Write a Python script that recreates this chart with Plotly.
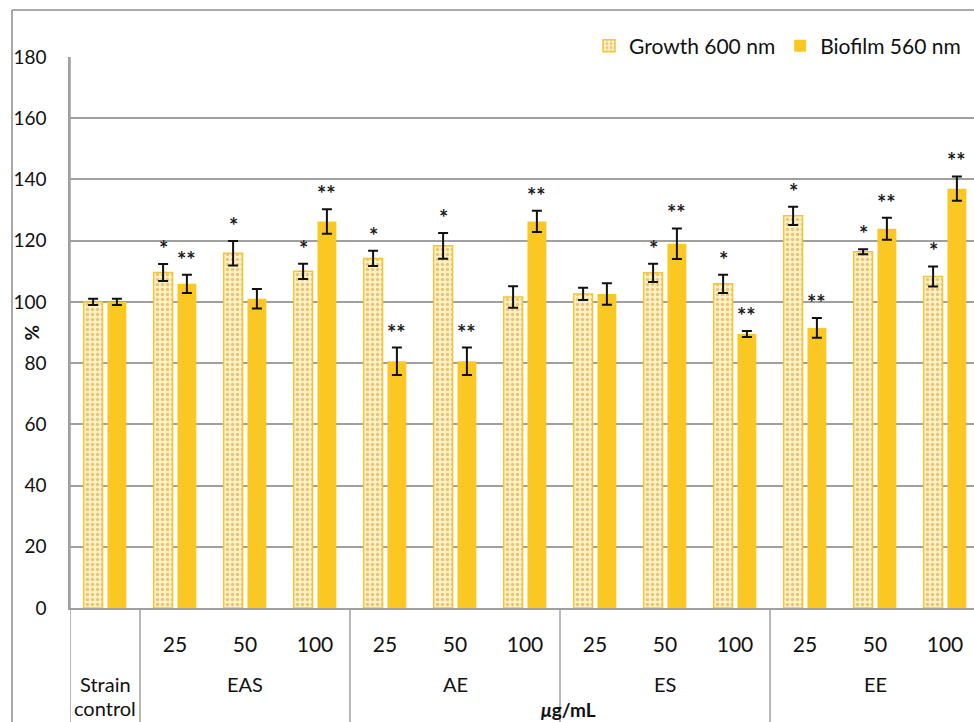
import plotly.graph_objects as go

# Treatments (extract / concentration) along the x axis
groups = ["EAS", "AE", "ES", "EE"]
doses = ["25", "50", "100"]
control_label = ["Strain", "control"]

# Mean response in % of the strain control, with standard deviations
growth = [100.0, 109.6, 115.9, 110.0, 114.2, 118.3, 101.6, 102.6, 109.5, 105.9, 128.1, 116.4, 108.3]
growth_err = [1.0, 2.8, 4.0, 2.5, 2.5, 4.2, 3.5, 2.0, 3.0, 3.0, 3.0, 0.8, 3.3]
biofilm = [100.0, 105.9, 101.0, 126.3, 80.6, 80.6, 126.3, 102.6, 119.0, 89.5, 91.5, 123.9, 137.0]
biofilm_err = [1.0, 3.0, 3.2, 4.0, 4.5, 4.5, 3.5, 3.5, 5.0, 1.0, 3.2, 3.6, 4.0]

# Significance marks above each bar
growth_sig = ["", "*", "*", "*", "*", "*", "", "", "*", "*", "*", "*", "*"]
biofilm_sig = ["", "**", "", "**", "**", "**", "**", "", "**", "**", "**", "**", "**"]

y_ticks = [0, 20, 40, 60, 80, 100, 120, 140, 160, 180]

FONT = "Lato"
GRID = "#a0a0a0"
GOLD = "#fbc823"
TXT = 20

n = len(growth)
pos = list(range(n))
bw = 0.27
shift = 0.17

fig = go.Figure()

fig.add_trace(go.Bar(
    name="Growth 600 nm",
    x=pos, y=growth, width=bw, offset=-shift - bw / 2,
    marker=dict(
        color="#fdf2c2",
        line=dict(color="#f3c53a", width=1.5),
        pattern=dict(shape=".", fgcolor="#d4983c", bgcolor="#fdf2c2",
                     size=5, solidity=0.4, fillmode="overlay"),
    ),
    error_y=dict(type="data", array=growth_err, visible=True,
                 color="#111111", thickness=2, width=5),
))

fig.add_trace(go.Bar(
    name="Biofilm 560 nm",
    x=pos, y=biofilm, width=bw, offset=shift - bw / 2,
    marker=dict(color=GOLD, line=dict(width=0)),
    error_y=dict(type="data", array=biofilm_err, visible=True,
                 color="#111111", thickness=2, width=5),
))

W, H = 974, 722
L, T, B = 70, 57, 114
plot_w = W - L
plot_h = H - T - B
cat_px = 70.0
x_hi = -0.5 + plot_w / cat_px

def py(px_y):
    """paper y from a pixel row"""
    return (H - B - px_y) / plot_h

def px(px_x):
    """paper x from a pixel column"""
    return (px_x - L) / plot_w

dose_text = [""] + doses * len(groups)

fig.update_layout(
    width=W, height=H,
    margin=dict(l=L, r=0, t=T, b=B),
    paper_bgcolor="white", plot_bgcolor="white",
    font=dict(family=FONT, size=TXT, color="#111111"),
    showlegend=True,
    legend=dict(
        orientation="h", x=px(966), xanchor="right", y=py(46), yanchor="middle",
        font=dict(family=FONT, size=21, color="#111111"),
        itemwidth=30, bgcolor="rgba(0,0,0,0)", traceorder="normal",
        tracegroupgap=0,
    ),
    xaxis=dict(
        range=[-0.5, x_hi], tickmode="array", tickvals=pos, ticktext=dose_text,
        showgrid=False, zeroline=False, ticks="", ticklabelstandoff=17,
        showline=True, linecolor=GRID, linewidth=1.5,
        tickfont=dict(family=FONT, size=21),
    ),
    yaxis=dict(
        range=[0, 180], tickmode="array", tickvals=y_ticks,
        showgrid=True, gridcolor=GRID, gridwidth=1.5,
        zeroline=False, showline=True, linecolor=GRID, linewidth=1.5,
        ticks="", ticklabelstandoff=18,
        tickfont=dict(family=FONT, size=19),
    ),
)

shapes = []
bottom = py(H)
# left axis line continues down through the category rows
shapes.append(dict(type="line", xref="x", yref="paper", x0=-0.5, x1=-0.5,
                   y0=1, y1=bottom, line=dict(color=GRID, width=1.5)))
# dividers between treatment groups
for k in range(len(groups)):
    xd = 0.5 + 3 * k
    shapes.append(dict(type="line", xref="x", yref="paper", x0=xd, x1=xd,
                       y0=0, y1=bottom, line=dict(color=GRID, width=1.5)))
# outer chart frame (left and top)
shapes.append(dict(type="line", xref="paper", yref="paper", x0=px(12), x1=px(12),
                   y0=py(10), y1=bottom, line=dict(color="#8c8c8c", width=1.5)))
shapes.append(dict(type="line", xref="paper", yref="paper", x0=px(12), x1=1,
                   y0=py(10), y1=py(10), line=dict(color="#8c8c8c", width=1.5)))
fig.update_layout(shapes=shapes)

ann = []
# significance stars just above the error-bar caps
star_font = dict(family=FONT, size=22, color="#1a1a1a")
for i in pos:
    if growth_sig[i]:
        ann.append(dict(text="<b>%s</b>" % growth_sig[i], x=i - shift, xref="x",
                        y=growth[i] + growth_err[i], yref="y", showarrow=False,
                        xanchor="center", yanchor="bottom", yshift=0,
                        font=star_font))
    if biofilm_sig[i]:
        ann.append(dict(text="<b>%s</b>" % biofilm_sig[i], x=i + shift, xref="x",
                        y=biofilm[i] + biofilm_err[i], yref="y", showarrow=False,
                        xanchor="center", yanchor="bottom", yshift=0,
                        font=star_font))

for k, g in enumerate(groups):
    ann.append(dict(text=g, x=2 + 3 * k, xref="x", y=py(684), yref="paper",
                    showarrow=False, xanchor="center", yanchor="middle",
                    font=dict(family=FONT, size=TXT)))
ann.append(dict(text=control_label[0], x=0, xref="x", y=py(684), yref="paper",
                showarrow=False, xanchor="center", yanchor="middle",
                font=dict(family=FONT, size=TXT)))
ann.append(dict(text=control_label[1], x=0, xref="x", y=py(708), yref="paper",
                showarrow=False, xanchor="center", yanchor="middle",
                font=dict(family=FONT, size=TXT)))
ann.append(dict(text="<b><i>μ</i>g/mL</b>", x=px(568), xref="paper", y=py(709),
                yref="paper", showarrow=False, xanchor="center", yanchor="middle",
                font=dict(family=FONT, size=19)))
ann.append(dict(text="<b>%</b>", x=px(31), xref="paper", y=90, yref="y",
                showarrow=False, xanchor="center", yanchor="middle", textangle=-90,
                font=dict(family=FONT, size=19)))
fig.update_layout(annotations=ann)

fig.write_html("out.html")
